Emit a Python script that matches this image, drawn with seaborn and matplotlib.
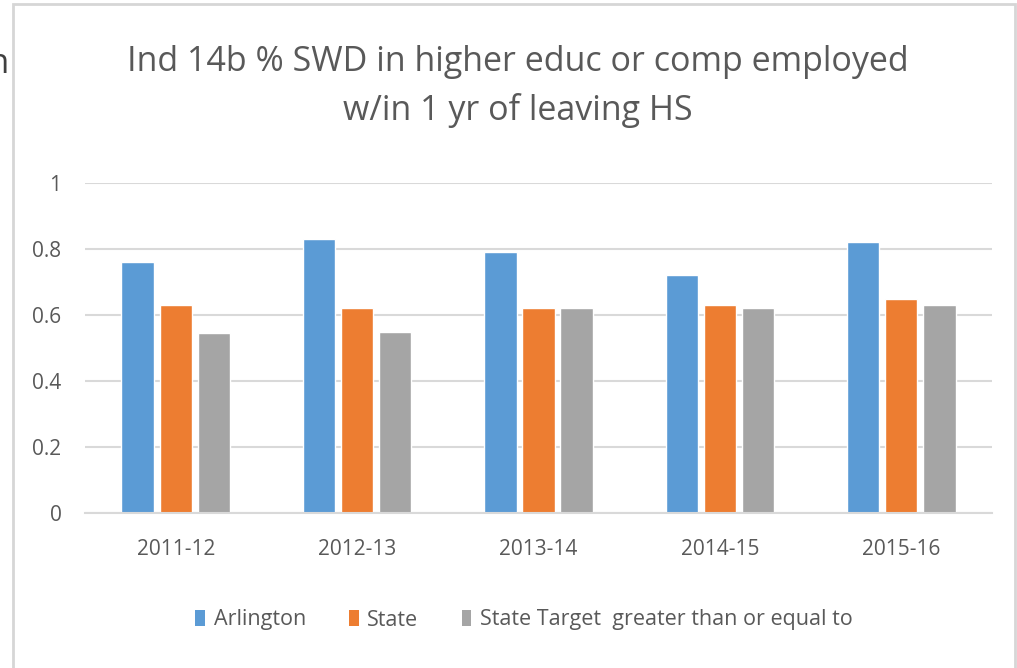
import matplotlib
matplotlib.use("Agg")
import matplotlib.pyplot as plt
import seaborn as sns
import pandas as pd
from matplotlib.patches import Rectangle, Patch

years = ["2011-12", "2012-13", "2013-14", "2014-15", "2015-16"]
series_names = ["Arlington", "State", "State Target  greater than or equal to"]
arlington = [0.76, 0.83, 0.79, 0.72, 0.82]
state = [0.63, 0.62, 0.62, 0.63, 0.65]
target = [0.545, 0.55, 0.62, 0.62, 0.63]
yticks = [0, 0.2, 0.4, 0.6, 0.8, 1]
ytick_labels = ["0", "0.2", "0.4", "0.6", "0.8", "1"]
colors = ["#5B9BD5", "#ED7D31", "#A5A5A5"]

rows = []
for name, vals in zip(series_names, [arlington, state, target]):
    for y, v in zip(years, vals):
        rows.append({"year": y, "series": name, "value": v})
df = pd.DataFrame(rows)

sns.set_theme(style="white")
plt.rcParams["font.family"] = ["Open Sans", "DejaVu Sans"]
text_col = "#595959"

fig = plt.figure(figsize=(10.17, 6.68), dpi=100)
ax = fig.add_axes([85 / 1017, 1 - 513 / 668, (992 - 85) / 1017, (513 - 183) / 668])

sns.barplot(data=df, x="year", y="value", hue="series", palette=colors,
            order=years, hue_order=series_names, width=0.63, gap=0.15,
            saturation=1, ax=ax, legend=False)

ax.set_ylim(0, 1)
ax.set_xlim(-0.5, len(years) - 0.5)
ax.set_yticks(yticks)
ax.set_yticklabels(ytick_labels)
ax.yaxis.grid(True, color="#d9d9d9", linewidth=1.5)
ax.set_axisbelow(True)
for s in ["top", "right", "left"]:
    ax.spines[s].set_visible(False)
ax.spines["bottom"].set_color("#d9d9d9")
ax.spines["bottom"].set_linewidth(1.5)
ax.tick_params(axis="both", length=0, colors=text_col, labelsize=15)
ax.tick_params(axis="x", pad=19)
ax.tick_params(axis="y", pad=17)
ax.set_xlabel("")
ax.set_ylabel("")

fig.text(518 / 1017, 1 - 62 / 668, "Ind 14b % SWD in higher educ or comp employed",
         ha="center", va="center", fontsize=24.5, color=text_col)
fig.text(518 / 1017, 1 - 110 / 668, "w/in 1 yr of leaving HS",
         ha="center", va="center", fontsize=24.5, color=text_col)

handles = [Patch(facecolor=c, edgecolor="none") for c in colors]
fig.legend(handles, series_names, loc="center", bbox_to_anchor=(524 / 1017, 1 - 620 / 668),
           ncol=3, frameon=False, fontsize=15.5, labelcolor=text_col,
           handlelength=0.45, handleheight=0.7, handletextpad=0.4, columnspacing=2.0)

# chart border
fig.add_artist(Rectangle((13 / 1017, -0.05), (1015 - 13) / 1017, 1.05 - 4 / 668,
                         transform=fig.transFigure, fill=False, edgecolor="#d6d6d6", linewidth=2))
fig.text(9 / 1017, 1 - 64 / 668, "n", ha="right", va="center", fontsize=25, color="#404040")

fig.savefig("out.png", dpi=100)
